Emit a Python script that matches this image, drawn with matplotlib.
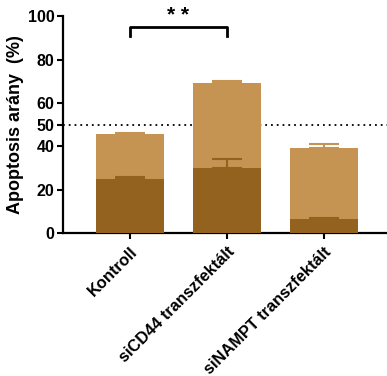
import matplotlib
matplotlib.use("Agg")
import matplotlib.pyplot as plt
import numpy as np

categories = ["Kontroll", "siCD44 transzfektált", "siNAMPT transzfektált"]
total_vals = [45.6, 69.1, 39.3]
total_err = [0.6, 0.8, 2.0]
dark_vals = [24.9, 29.8, 6.6]
dark_err = [0.8, 4.2, 0.3]
yticks = [0, 20, 40, 50, 60, 80, 100]

light_c = "#C69452"
dark_c = "#93621F"

plt.rcParams['font.family'] = ['Liberation Sans', 'DejaVu Sans']
plt.rcParams['font.weight'] = 'bold'

fig = plt.figure(figsize=(3.87, 3.76), dpi=100)
ax = fig.add_axes([0.163, 0.380, 0.837, 0.577])

x = np.arange(len(categories))
w = 0.70
ax.axhline(50, color="black", lw=1.3, ls=(0, (1, 2.2)), zorder=1)
ax.bar(x, total_vals, width=w, color=light_c, zorder=2)
ax.errorbar(x, total_vals, yerr=[np.zeros(3), total_err], fmt="none",
            ecolor=light_c, elinewidth=1.5, capsize=11, capthick=1.5, zorder=2)
ax.bar(x, dark_vals, width=w, color=dark_c, zorder=3)
ax.errorbar(x, dark_vals, yerr=[np.zeros(3), dark_err], fmt="none",
            ecolor=dark_c, elinewidth=1.5, capsize=11, capthick=1.5, zorder=3)

ax.set_xlim(-0.69, 2.65)
ax.set_ylim(0, 100)
ax.set_yticks(yticks)
ax.set_yticklabels([str(t) for t in yticks], fontsize=11.5, fontweight='bold')
ax.set_xticks(x)
ax.set_xticklabels(categories, rotation=45, ha='right', rotation_mode='anchor',
                   fontsize=11.8, fontweight='bold')
ax.set_ylabel("Apoptosis arány  (%)", fontsize=13, fontweight='bold', labelpad=3)

for s in ["top", "right"]:
    ax.spines[s].set_visible(False)
for s in ["left", "bottom"]:
    ax.spines[s].set_linewidth(1.6)
ax.tick_params(axis='both', width=1.5, length=4, direction='out', pad=2)
ax.tick_params(axis='x', pad=4)

# significance bracket
yb, yt = 90.8, 95
ax.plot([x[0], x[0], x[1], x[1]], [yb, yt, yt, yb], color="black", lw=2, clip_on=False)
ax.text((x[0] + x[1]) / 2, 100.5, "* *", ha='center', va='center', fontsize=15,
        fontweight='bold', clip_on=False)

fig.savefig("out.png", dpi=100)
